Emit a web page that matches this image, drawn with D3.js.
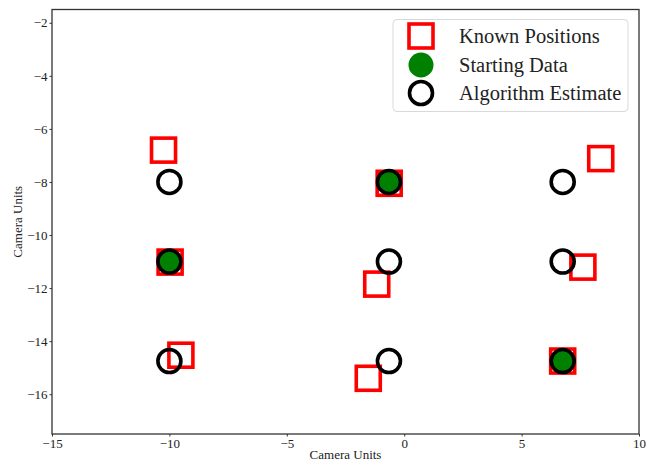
<!DOCTYPE html>
<html>
<head>
<meta charset="utf-8">
<script src="https://cdn.jsdelivr.net/npm/d3@7/dist/d3.min.js"></script>
<style>
  html, body { margin: 0; padding: 0; background: #fff; }
  svg { display: block; }
  text { font-family: "Liberation Serif", "DejaVu Serif", serif; fill: #222; }
</style>
</head>
<body>
<svg id="chart" width="662" height="461"></svg>
<script>
// Known camera positions (red squares)
const knownX = [-10.25, -0.64, -9.97, -1.17, -9.51, -1.53, 8.37, 7.61, 6.75];
const knownY = [-6.80, -8.05, -11.02, -11.85, -14.53, -15.40, -7.12, -11.21, -14.75];

// Starting data (green dots)
const startX = [-10.0, -0.65, 6.75];
const startY = [-11.0, -8.0, -14.75];

// Algorithm estimate (black rings)
const estX = [-10.0, -10.0, -10.0, -0.65, -0.65, -0.65, 6.75, 6.75, 6.75];
const estY = [-8.0, -11.0, -14.75, -8.0, -11.0, -14.75, -8.0, -11.0, -14.75];

const xTicks = [-15, -10, -5, 0, 5, 10];
const yTicks = [-16, -14, -12, -10, -8, -6, -4, -2];
const legendLabels = ["Known Positions", "Starting Data", "Algorithm Estimate"];

const svg = d3.select("#chart");
const m = { left: 52, right: 639, top: 9.5, bottom: 434 };

const x = d3.scaleLinear().domain([-15, 10]).range([m.left, m.right]);
const y = d3.scaleLinear().domain([-17.5, -1.5]).range([m.bottom, m.top]);

const fmt = d => (d < 0 ? "\u2212" + Math.abs(d) : String(d));

// Axes
const xAxis = d3.axisBottom(x).tickValues(xTicks).tickSize(2.5).tickPadding(2).tickFormat(fmt);
const yAxis = d3.axisLeft(y).tickValues(yTicks).tickSize(2.5).tickPadding(2).tickFormat(fmt);

const gx = svg.append("g").attr("transform", `translate(0,${m.bottom})`).call(xAxis);
const gy = svg.append("g").attr("transform", `translate(${m.left},0)`).call(yAxis);
[gx, gy].forEach(g => {
  g.select(".domain").remove();
  g.selectAll(".tick line").attr("stroke", "#333").attr("stroke-width", 1);
  g.selectAll(".tick text").attr("font-size", 13).attr("fill", "#222")
    .style("font-family", "'Liberation Serif', serif");
});

// Plot frame
svg.append("rect")
  .attr("x", m.left).attr("y", m.top)
  .attr("width", m.right - m.left).attr("height", m.bottom - m.top)
  .attr("fill", "none").attr("stroke", "#333").attr("stroke-width", 1.3);

// Axis titles
svg.append("text")
  .attr("x", (m.left + m.right) / 2).attr("y", 459)
  .attr("text-anchor", "middle").attr("font-size", 13)
  .text("Camera Units");
svg.append("text")
  .attr("transform", `translate(22,${(m.top + m.bottom) / 2}) rotate(-90)`)
  .attr("text-anchor", "middle").attr("font-size", 13)
  .text("Camera Units");

const plot = svg.append("g");
const sq = 24;     // square marker side
const rad = 11.5;  // circle marker radius

plot.selectAll("rect.known")
  .data(d3.range(knownX.length))
  .join("rect")
  .attr("class", "known")
  .attr("x", i => x(knownX[i]) - sq / 2)
  .attr("y", i => y(knownY[i]) - sq / 2)
  .attr("width", sq).attr("height", sq)
  .attr("fill", "none").attr("stroke", "#ff0000").attr("stroke-width", 3.6);

plot.selectAll("circle.start")
  .data(d3.range(startX.length))
  .join("circle")
  .attr("class", "start")
  .attr("cx", i => x(startX[i]))
  .attr("cy", i => y(startY[i]))
  .attr("r", rad + 1)
  .attr("fill", "#008000");

plot.selectAll("circle.est")
  .data(d3.range(estX.length))
  .join("circle")
  .attr("class", "est")
  .attr("cx", i => x(estX[i]))
  .attr("cy", i => y(estY[i]))
  .attr("r", rad)
  .attr("fill", "none").attr("stroke", "#000").attr("stroke-width", 3.6);

// Legend
const lg = svg.append("g");
lg.append("rect")
  .attr("x", 393).attr("y", 19.5).attr("width", 235).attr("height", 92)
  .attr("rx", 4).attr("fill", "#fff").attr("fill-opacity", 0.8)
  .attr("stroke", "#d9d9d9").attr("stroke-width", 1);

const rowY = [36, 65, 93];
const mx = 421;
lg.append("rect")
  .attr("x", mx - sq / 2).attr("y", rowY[0] - sq / 2).attr("width", sq).attr("height", sq)
  .attr("fill", "none").attr("stroke", "#ff0000").attr("stroke-width", 3.6);
lg.append("circle").attr("cx", mx).attr("cy", rowY[1]).attr("r", rad + 1).attr("fill", "#008000");
lg.append("circle").attr("cx", mx).attr("cy", rowY[2]).attr("r", rad)
  .attr("fill", "none").attr("stroke", "#000").attr("stroke-width", 3.6);

lg.selectAll("text.lab")
  .data(legendLabels)
  .join("text")
  .attr("class", "lab")
  .attr("x", 459)
  .attr("y", (d, i) => rowY[i] + 7)
  .attr("font-size", 20.5)
  .text(d => d);
</script>
</body>
</html>
